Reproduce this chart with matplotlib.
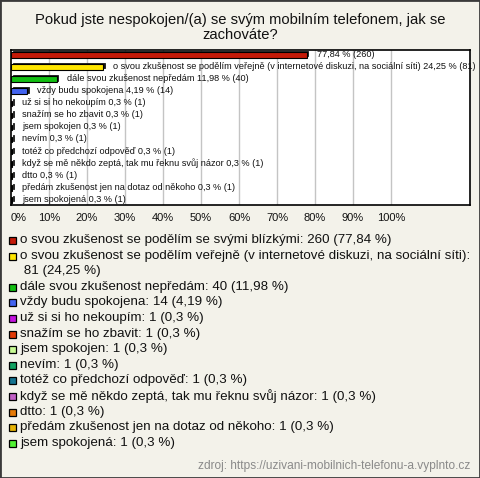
import textwrap
import matplotlib
matplotlib.use("Agg")
import matplotlib.pyplot as plt
from matplotlib.patches import Rectangle

# ---- data ----
title = "Pokud jste nespokojen/(a) se svým mobilním telefonem, jak se\nzachováte?"
categories = [
    "o svou zkušenost se podělím se svými blízkými",
    "o svou zkušenost se podělím veřejně (v internetové diskuzi, na sociální síti)",
    "dále svou zkušenost nepředám",
    "vždy budu spokojena",
    "už si si ho nekoupím",
    "snažím se ho zbavit",
    "jsem spokojen",
    "nevím",
    "totéž co předchozí odpověď",
    "když se mě někdo zeptá, tak mu řeknu svůj názor",
    "dtto",
    "předám zkušenost jen na dotaz od někoho",
    "jsem spokojená",
]
counts = [260, 81, 40, 14, 1, 1, 1, 1, 1, 1, 1, 1, 1]
percents = [77.84, 24.25, 11.98, 4.19, 0.3, 0.3, 0.3, 0.3, 0.3, 0.3, 0.3, 0.3, 0.3]
colors = ["#c41a08", "#ffe600", "#12bf12", "#4263ef", "#c414e0", "#e23a06",
          "#c8fb94", "#12a262", "#157390", "#c260c6", "#e67a06", "#e8b404", "#52f234"]
xticks = [0, 10, 20, 30, 40, 50, 60, 70, 80, 90, 100]
source = "zdroj: https://uzivani-mobilnich-telefonu-a.vyplnto.cz"

W, H = 480, 478
BG = "#f3f2ea"
FONT = "Liberation Sans"

def cz(v):
    s = f"{v:.2f}".rstrip("0").rstrip(".")
    return s.replace(".", ",")

fig = plt.figure(figsize=(W / 100, H / 100), dpi=100, facecolor=BG)

def fx(x):
    return x / W

def fy(y):
    return 1 - y / H

# outer frame
fig.patches.append(Rectangle((0, 0), 1, 1, transform=fig.transFigure,
                             fill=False, edgecolor="#3a3a3a", linewidth=2.0))

# title
fig.text(0.5, fy(27.5), title, ha="center", va="center", fontsize=10.6,
         family=FONT, color="#111111", linespacing=1.1)

# plot area
L, R, T, B = 11, 470, 50, 205
ax = fig.add_axes([fx(L), fy(B), (R - L) / W, (B - T) / H])
ax.set_facecolor("white")
px_per_pct = 3.8
xmax = (R - L) / px_per_pct
ax.set_xlim(0, xmax)
n = len(categories)
row_px = 12.08
pad = 5 / row_px
ax.set_ylim(n - 1 + pad, -pad)
for s in ax.spines.values():
    s.set_color("black")
    s.set_linewidth(1.2)
for g in xticks[1:]:
    ax.axvline(g, color="#c4c4c4", linewidth=1.0, zorder=0)
ax.set_xticks(xticks)
ax.set_xticklabels([f"{t}%" for t in xticks], fontsize=8, family=FONT, color="#111111")
ax.get_xticklabels()[0].set_horizontalalignment("left")
ax.tick_params(axis="x", length=0, pad=6)
ax.set_yticks([])

ypos = list(range(n))
bh = 5.5 / row_px
dx = 1.6 / px_per_pct
dy = 1.4 / row_px
# shadow / depth
ax.barh([y - dy for y in ypos], percents, left=dx, height=bh, color="#1a1a1a",
        edgecolor="#1a1a1a", linewidth=0.6, zorder=2)
ax.barh(ypos, percents, height=bh, color=colors, edgecolor="black",
        linewidth=0.8, zorder=3)

for i, (c, p, k) in enumerate(zip(categories, percents, counts)):
    if i == 0:
        lab = f"{cz(p)} % ({k})"
    else:
        lab = f"{c} {cz(p)} % ({k})"
    ax.text(p + 10 / px_per_pct, i - 0.05, lab, ha="left", va="center",
            fontsize=6.6, family=FONT, color="#111111", zorder=4, clip_on=False)

# legend
y = 240
line_h = 15.6
for c, p, k, col in zip(categories, percents, counts, colors):
    s = f"{c}: {k} ({cz(p)} %)"
    lines = textwrap.wrap(s, 80)
    fig.patches.append(Rectangle((fx(9), fy(y + 4)), 7 / W, 7 / H,
                                 transform=fig.transFigure, facecolor=col,
                                 edgecolor="black", linewidth=0.9))
    for j, ln in enumerate(lines):
        txt = ln if j == 0 else " " + ln
        fig.text(fx(20), fy(y), txt, ha="left", va="center", fontsize=9.6,
                 family=FONT, color="#111111")
        y += line_h

fig.text(fx(470), fy(466), source, ha="right", va="center", fontsize=8.6,
         family=FONT, color="#8a8a8a")

fig.savefig("out.png", dpi=100, facecolor=BG)
